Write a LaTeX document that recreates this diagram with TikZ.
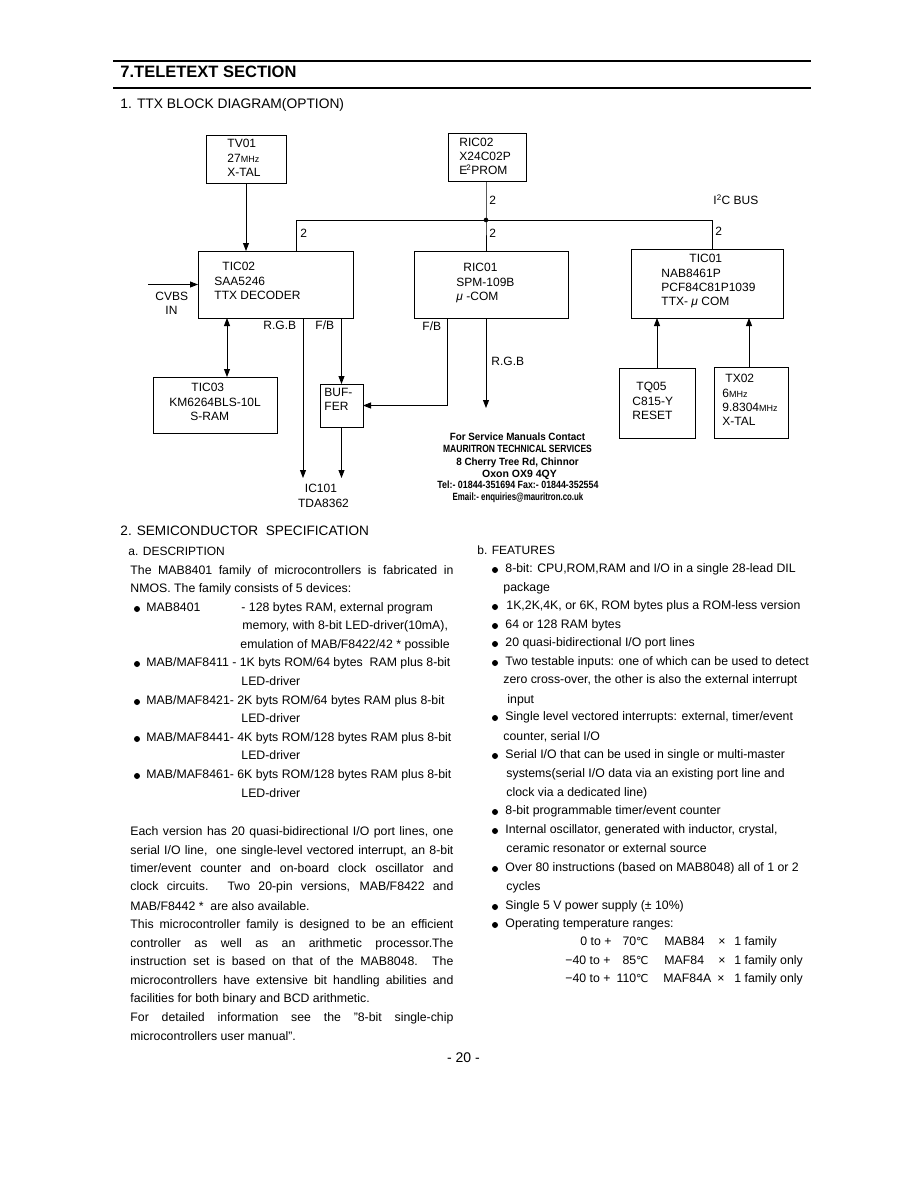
\documentclass[tikz,border=0pt]{standalone}
\usepackage{fontspec}
\setmainfont{Liberation Sans}
\newfontfamily\djvfont{DejaVu Sans}
\usetikzlibrary{arrows.meta}
\newcommand\bsz{\fontsize{12.3pt}{14pt}\selectfont}
\newcommand\dsz{\fontsize{12pt}{14pt}\selectfont}
\newcommand\jl[1]{\makebox[323pt][s]{#1}}
\newcommand\smhz{{\fontsize{9pt}{10pt}\selectfont MHz}}
\newcommand\degc{{\djvfont\fontsize{11pt}{12pt}\selectfont ℃}}
\newcommand\mfnt{\bfseries\fontsize{10.5pt}{11pt}\selectfont}
\begin{document}
\begin{tikzpicture}[x=1pt,y=-1pt,line width=0.9pt,
  box/.style={draw,line width=1pt,inner sep=0pt,outer sep=0pt},
  dt/.style={anchor=mid west,inner sep=0pt,font=\dsz},
  tx/.style={anchor=mid west,inner sep=0pt,font=\bsz},
  mt/.style={anchor=mid,inner sep=0pt,font=\mfnt},
  arr/.style={-{Triangle[length=8pt,width=6pt]}},
  darr/.style={{Triangle[length=8pt,width=6pt]}-{Triangle[length=8pt,width=6pt]}}]
\useasboundingbox[fill=white] (0,0) rectangle (918,1188);

% ---------- header ----------
\draw[line width=2.2pt] (113,61) -- (811,61);
\draw[line width=2.6pt] (113,88) -- (811,88);
\node[anchor=mid west,inner sep=0pt,font=\bfseries\fontsize{16.5pt}{18pt}\selectfont] (h1) at (120,75) {7.TELETEXT SECTION};
\node[anchor=mid west,inner sep=0pt,font=\fontsize{13.8pt}{16pt}\selectfont] (h2) at (120,106) {1. TTX BLOCK DIAGRAM(OPTION)};

% ---------- boxes ----------
\node[box,minimum width=80pt,minimum height=47pt] (tv01) at (246,159.5) {};
\node[box,minimum width=78pt,minimum height=47pt] (ric02) at (487,157.5) {};
\node[box,minimum width=155pt,minimum height=67pt] (tic02) at (275.5,284.5) {};
\node[box,minimum width=154pt,minimum height=67pt] (ric01) at (491,284.5) {};
\node[box,minimum width=152pt,minimum height=69pt] (tic01) at (707,283.5) {};
\node[box,minimum width=124pt,minimum height=56pt] (tic03) at (215,405) {};
\node[box,minimum width=43pt,minimum height=43pt] (buf) at (341.5,405.5) {};
\node[box,minimum width=76pt,minimum height=70pt] (tq05) at (657,403) {};
\node[box,minimum width=74pt,minimum height=71pt] (tx02) at (751,402.5) {};

% ---------- box texts ----------
\node[dt] (tv01a) at (227,145) {TV01};
\node[dt] (tv01b) at (227,159.5) {27\smhz};
\node[dt] (tv01c) at (227,174) {X-TAL};
\node[dt] (ric02a) at (459,144) {RIC02};
\node[dt] (ric02b) at (459,158) {X24C02P};
\node[dt] (ric02c) at (459,172) {E\kern-1pt\textsuperscript{2}PROM};
\node[dt] (tic02a) at (222,268) {TIC02};
\node[dt] (tic02b) at (214,282.5) {SAA5246};
\node[dt] (tic02c) at (214,297) {TTX DECODER};
\node[dt] (ric01a) at (463,269) {RIC01};
\node[dt] (ric01b) at (456,284) {SPM-109B};
\node[dt] (ric01c) at (456,298) {{\itshape μ} -COM};
\node[dt] (tic01a) at (689,260) {TIC01};
\node[dt] (tic01b) at (661,274.5) {NAB8461P};
\node[dt] (tic01c) at (661,288.5) {PCF84C81P1039};
\node[dt] (tic01d) at (661,303) {TTX- {\itshape μ} COM};
\node[dt] (tic03a) at (191,389) {TIC03};
\node[dt] (tic03b) at (169,404) {KM6264BLS-10L};
\node[dt] (tic03c) at (190,418) {S-RAM};
\node[dt] (bufa) at (324,394) {BUF-};
\node[dt] (bufb) at (324,408) {FER};
\node[dt] (tq05a) at (636,388) {TQ05};
\node[dt] (tq05b) at (632,403) {C815-Y};
\node[dt] (tq05c) at (632,417) {RESET};
\node[dt] (tx02a) at (725,380) {TX02};
\node[dt] (tx02b) at (722,395) {6\smhz};
\node[dt] (tx02c) at (722,409) {9.8304\smhz};
\node[dt] (tx02d) at (722,423) {X-TAL};

% ---------- connectors ----------
\coordinate (busL) at (296,220);
\coordinate (busR) at (712,220);
\coordinate (jn) at (486,220);
\draw[arr] (tv01.south) -- (tv01.south |- tic02.north);
\draw (tic02.north -| busL) -- (busL) -- (busR) -- (tic01.north -| busR);
\draw (ric02.south -| jn) -- (jn) -- (ric01.north -| jn);
\fill (jn) circle (2.3pt);
\coordinate (cvbs) at (148,284.5);
\draw[arr] (cvbs) -- (tic02.west);
\coordinate (sx) at (227,350);
\draw[darr] (tic02.south -| sx) -- (tic03.north -| sx);
\coordinate (rgbx) at (303,478);
\draw[arr] (tic02.south -| rgbx) -- (rgbx);
\draw[arr] (tic02.south -| buf.north) -- (buf.north);
\coordinate (bufo) at (341.5,478);
\draw[arr] (buf.south) -- (bufo);
\coordinate (fbx) at (447,405.5);
\draw[arr] (ric01.south -| fbx) -- (fbx) -- (buf.east);
\coordinate (rgb2) at (486,408);
\draw[arr] (ric01.south -| rgb2) -- (rgb2);
\coordinate (tqx) at (657,350);
\coordinate (txx) at (749,350);
\draw[arr] (tq05.north -| tqx) -- (tic01.south -| tqx);
\draw[arr] (tx02.north -| txx) -- (tic01.south -| txx);

% ---------- connector labels ----------
\node[dt] (l2a) at (300,235) {2};
\node[dt] (l2b) at (489,202) {2};
\node[dt] (l2c) at (489,235) {2};
\node[dt] (l2d) at (715,233) {2};
\node[dt] (i2c) at (713,202) {I\textsuperscript{2}C BUS};
\node[dt] (cv1) at (155,298) {CVBS};
\node[dt] (cv2) at (165,312) {IN};
\node[dt] (rgb1) at (263,327) {R.G.B};
\node[dt] (fb1) at (315,327) {F/B};
\node[dt] (fb2) at (422,328) {F/B};
\node[dt] (rgbl2) at (491,363) {R.G.B};
\node[anchor=mid,inner sep=0pt,font=\dsz] (ic1) at (321,490) {IC101};
\node[anchor=mid,inner sep=0pt,font=\dsz] (ic2) at (323.5,504.5) {TDA8362};

% ---------- contact block ----------
\node[mt] (m1) at (517.5,438) {\scalebox{0.94}[1]{For Service Manuals Contact}};
\node[mt] (m2) at (517.5,450) {\scalebox{0.81}[1]{MAURITRON TECHNICAL SERVICES}};
\node[mt] (m3) at (517.5,463) {\scalebox{0.94}[1]{8 Cherry Tree Rd, Chinnor}};
\node[mt] (m4) at (519.5,474.5) {Oxon OX9 4QY};
\node[mt] (m5) at (518,486) {\scalebox{0.845}[1]{Tel:- 01844-351694 Fax:- 01844-352554}};
\node[mt] (m6) at (518,498) {\scalebox{0.75}[1]{Email:- enquiries@mauritron.co.uk}};

% ---------- section 2, left column ----------
\node[anchor=mid west,inner sep=0pt,font=\fontsize{13.6pt}{16pt}\selectfont] (s2) at (120,533) {2. SEMICONDUCTOR\ \ SPECIFICATION};
\node[anchor=mid west,inner sep=0pt,font=\fontsize{12pt}{14pt}\selectfont] (sa) at (128,553) {a. DESCRIPTION};
\node[tx] (a1) at (130,572) {\jl{The MAB8401 family of microcontrollers is fabricated in}};
\node[tx] (a2) at (130,590) {NMOS. The family consists of 5 devices:};
\fill (137,609) circle (3pt);
\node[tx] (a3) at (146,609) {MAB8401};
\node[tx] (a3b) at (241,609) {- 128 bytes RAM, external program};
\node[tx] (a4) at (242,627) {memory, with 8-bit LED-driver(10mA),};
\node[tx] (a5) at (240,646) {emulation of MAB/F8422/42 * possible};
\fill (137,664) circle (3pt);
\node[tx] (a6) at (146,664) {MAB/MAF8411 - 1K byts ROM/64 bytes\ \ RAM plus 8-bit};
\node[tx] (a7) at (241,683) {LED-driver};
\fill (137,702) circle (3pt);
\node[tx] (a8) at (146,702) {MAB/MAF8421- 2K byts ROM/64 bytes RAM plus 8-bit};
\node[tx] (a9) at (241,720) {LED-driver};
\fill (137,739) circle (3pt);
\node[tx] (a10) at (146,739) {MAB/MAF8441- 4K byts ROM/128 bytes RAM plus 8-bit};
\node[tx] (a11) at (241,757) {LED-driver};
\fill (137,776) circle (3pt);
\node[tx] (a12) at (146,776) {MAB/MAF8461- 6K byts ROM/128 bytes RAM plus 8-bit};
\node[tx] (a13) at (241,795) {LED-driver};
\node[tx] (p1) at (130,833) {\jl{Each version has 20 quasi-bidirectional I/O port lines, one}};
\node[tx] (p2) at (130,852) {\jl{serial I/O line,\ \ one single-level vectored interrupt, an 8-bit}};
\node[tx] (p3) at (130,870) {\jl{timer/event counter and on-board clock oscillator and}};
\node[tx] (p4) at (130,888) {\jl{clock circuits. Two 20-pin versions, MAB/F8422 and}};
\node[tx] (p5) at (130,908) {MAB/F8442 *\ \ are also available.};
\node[tx] (p6) at (130,926) {\jl{This microcontroller family is designed to be an efficient}};
\node[tx] (p7) at (130,945) {\jl{controller as well as an arithmetic processor.The}};
\node[tx] (p8) at (130,963) {\jl{instruction set is based on that of the MAB8048. The}};
\node[tx] (p9) at (130,982) {\jl{microcontrollers have extensive bit handling abilities and}};
\node[tx] (p10) at (130,1000) {facilities for both binary and BCD arithmetic.};
\node[tx] (p11) at (130,1019) {\jl{For detailed information see the "8-bit single-chip}};
\node[tx] (p12) at (130,1038) {microcontrollers user manual".};
\node[anchor=mid,inner sep=0pt,font=\fontsize{14pt}{16pt}\selectfont] (pg) at (463.5,1060) {- 20 -};

% ---------- right column ----------
\node[anchor=mid west,inner sep=0pt,font=\fontsize{12pt}{14pt}\selectfont] (sb) at (477,552) {b. FEATURES};
\fill (495,570) circle (3pt);
\node[tx] (b1) at (505,570) {8-bit: CPU,ROM,RAM and I/O in a single 28-lead DIL};
\node[tx] (b1b) at (503,589) {package};
\fill (495,607) circle (3pt);
\node[tx] (b2) at (506,607) {1K,2K,4K, or 6K, ROM bytes plus a ROM-less version};
\fill (495,626) circle (3pt);
\node[tx] (b3) at (505,626) {64 or 128 RAM bytes};
\fill (495,644) circle (3pt);
\node[tx] (b4) at (505,644) {20 quasi-bidirectional I/O port lines};
\fill (495,663) circle (3pt);
\node[tx] (b5) at (505,663) {Two testable inputs: one of which can be used to detect};
\node[tx] (b5b) at (503,681) {zero cross-over, the other is also the external interrupt};
\node[tx] (b5c) at (507,701) {input};
\fill (495,718) circle (3pt);
\node[tx] (b6) at (505,718) {Single level vectored interrupts: external, timer/event};
\node[tx] (b6b) at (503,738) {counter, serial I/O};
\fill (495,756) circle (3pt);
\node[tx] (b7) at (505,756) {Serial I/O that can be used in single or multi-master};
\node[tx] (b7b) at (506,775) {systems(serial I/O data via an existing port line and};
\node[tx] (b7c) at (506,794) {clock via a dedicated line)};
\fill (495,812) circle (3pt);
\node[tx] (b8) at (505,812) {8-bit programmable timer/event counter};
\fill (495,831) circle (3pt);
\node[tx] (b9) at (505,831) {Internal oscillator, generated with inductor, crystal,};
\node[tx] (b9b) at (506,850) {ceramic resonator or external source};
\fill (495,869) circle (3pt);
\node[tx] (b10) at (505,869) {Over 80 instructions (based on MAB8048) all of 1 or 2};
\node[tx] (b10b) at (506,888) {cycles};
\fill (495,907) circle (3pt);
\node[tx] (b11) at (505,907) {Single 5 V power supply (± 10\%)};
\fill (495,925) circle (3pt);
\node[tx] (b12) at (505,925) {Operating temperature ranges:};
% temperature table
\node[tx] (t1a) at (580,943) {0 to +};
\node[tx,anchor=mid east] (t1b) at (649,943) {70\degc};
\node[tx] (t1c) at (664,943) {MAB84};
\node[tx] (t1d) at (718,943) {×};
\node[tx] (t1e) at (734,943) {1 family};
\node[tx] (t2a) at (565,962) {−40 to +};
\node[tx,anchor=mid east] (t2b) at (649,962) {85\degc};
\node[tx] (t2c) at (664,962) {MAF84};
\node[tx] (t2d) at (718,962) {×};
\node[tx] (t2e) at (734,962) {1 family only};
\node[tx] (t3a) at (565,980) {−40 to +};
\node[tx,anchor=mid east] (t3b) at (649,980) {110\degc};
\node[tx] (t3c) at (663,980) {MAF84A};
\node[tx] (t3d) at (717,980) {×};
\node[tx] (t3e) at (734,980) {1 family only};
\end{tikzpicture}
\end{document}
